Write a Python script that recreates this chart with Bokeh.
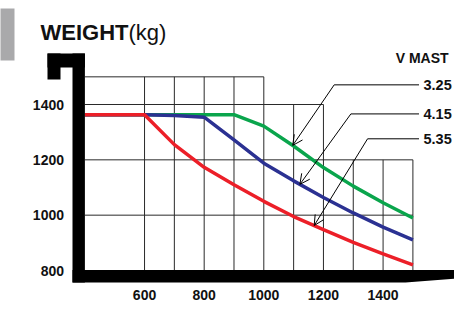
import numpy as np
from bokeh.plotting import figure
from bokeh.models import Range1d, Arrow, OpenHead
from bokeh.core.properties import value
from bokeh.embed import file_html
from bokeh.resources import INLINE

# ---------------- data ----------------
load_center = [400, 600, 700, 800, 900, 1000, 1100, 1200, 1300, 1400, 1500]
weight_325 = [1363, 1363, 1363, 1363, 1363, 1322, 1250, 1172, 1105, 1045, 990]   # green
weight_415 = [1363, 1363, 1360, 1354, 1272, 1188, 1124, 1064, 1008, 957, 911]    # blue
weight_535 = [1363, 1363, 1255, 1173, 1110, 1050, 995, 948, 902, 860, 820]       # red

x_ticks = [600, 800, 1000, 1200, 1400]
y_ticks = [800, 1000, 1200, 1400]

vgrid_x = [600, 700, 800, 900, 1000, 1100, 1200, 1300, 1400, 1500]
vgrid_top = [1500, 1500, 1500, 1500, 1500, 1400, 1400, 1200, 1200, 1200]
hgrid_y = [1500, 1400, 1200, 1000]
hgrid_right = [1000, 1200, 1500, 1500]

mast_header = "V  MAST"
mast_labels = ["3.25", "4.15", "5.35"]
mast_label_y = [1471, 1366, 1276]
leader_elbow_x = [1236, 1292, 1348]
leader_tip_x = [1097, 1121, 1169]

# ---------------- layout ----------------
W, H = 454, 301
SXP, SYP = 0.29818, 0.27667          # pixels per data unit
X0 = 400 - 84.4 / SXP
Y1 = 1400 + 104.0 / SYP
X1 = X0 + W / SXP
Y0 = Y1 - H / SYP


def fx(px):
    return X0 + px / SXP


def fy(py):
    return Y1 - py / SYP


p = figure(width=W, height=H, output_backend="svg", toolbar_location=None,
           x_range=Range1d(X0, X1), y_range=Range1d(Y0, Y1),
           x_axis_location=None, y_axis_location=None, min_border=0)
p.grid.visible = False
p.outline_line_color = None
p.background_fill_color = "white"
p.border_fill_color = "white"

FONT = value("Liberation Sans")
grid_col = "#2a2a2a"
x_left, y_bottom = load_center[0], 800

# grid
p.segment(x0=vgrid_x, y0=[y_bottom] * len(vgrid_x), x1=vgrid_x, y1=vgrid_top,
          line_color=grid_col, line_width=1)
p.segment(x0=[x_left] * len(hgrid_y), y0=hgrid_y, x1=hgrid_right, y1=hgrid_y,
          line_color=grid_col, line_width=1)

# curves (red on top)
p.line(load_center, weight_325, line_color="#0aa54c", line_width=3.5)
p.line(load_center, weight_415, line_color="#2b3192", line_width=3.5)
p.line(load_center, weight_535, line_color="#ec1f28", line_width=3.5)

# black frame decoration
p.quad(left=[fx(72)], right=[fx(84.4)], top=[fy(53)], bottom=[fy(282)],
       fill_color="black", line_color=None)
p.quad(left=[fx(47)], right=[fx(84.4)], top=[fy(53)], bottom=[fy(67)],
       fill_color="black", line_color=None)
p.quad(left=[fx(47)], right=[fx(60)], top=[fy(53)], bottom=[fy(79)],
       fill_color="black", line_color=None)
p.patch(x=[fx(72), fx(470), fx(470), fx(405), fx(72)],
        y=[fy(269.5), fy(269.5), fy(277), fy(282), fy(282)],
        fill_color="black", line_color=None)

# gray side tab
p.quad(left=[fx(-2)], right=[fx(14)], top=[fy(8)], bottom=[fy(60)],
       fill_color="#a9a9ab", line_color=None)

# title
p.text(x=[fx(40)], y=[fy(32)], text=["WEIGHT"], text_font=FONT,
       text_font_style="bold", text_font_size="22px", text_color="#111111",
       text_baseline="alphabetic", text_align="left")
p.text(x=[fx(128)], y=[fy(32)], text=["(kg)"], text_font=FONT,
       text_font_style="normal", text_font_size="22px", text_color="#111111",
       text_baseline="alphabetic", text_align="left")

# tick labels
p.text(x=[fx(63.5)] * len(y_ticks), y=y_ticks, text=[str(v) for v in y_ticks],
       text_font=FONT, text_font_style="bold", text_font_size="14px",
       text_color="#111111", text_align="right", text_baseline="middle")
p.text(x=x_ticks, y=[fy(294)] * len(x_ticks), text=[str(v) for v in x_ticks],
       text_font=FONT, text_font_style="bold", text_font_size="14px",
       text_color="#111111", text_align="center", text_baseline="middle")

# mast legend with leaders
curves = [weight_325, weight_415, weight_535]
tip_y = [float(np.interp(tx, load_center, c)) for tx, c in zip(leader_tip_x, curves)]
right_end = fx(418.5)
p.segment(x0=leader_elbow_x, y0=mast_label_y, x1=[right_end] * 3, y1=mast_label_y,
          line_color="black", line_width=1)
for ex, ey, tx, ty in zip(leader_elbow_x, mast_label_y, leader_tip_x, tip_y):
    p.add_layout(Arrow(end=OpenHead(size=10, line_width=1, line_color="black"),
                       x_start=ex, y_start=ey, x_end=tx, y_end=ty,
                       line_color="black", line_width=1))

p.text(x=[fx(423)] * 3, y=mast_label_y, text=mast_labels, text_font=FONT,
       text_font_style="bold", text_font_size="14.5px", text_color="#111111",
       text_align="left", text_baseline="middle")
p.text(x=[fx(452)], y=[fy(57)], text=[mast_header], text_font=FONT,
       text_font_style="bold", text_font_size="14px", text_color="#111111",
       text_align="right", text_baseline="middle")

open("out.html", "w").write(file_html(p, INLINE))
